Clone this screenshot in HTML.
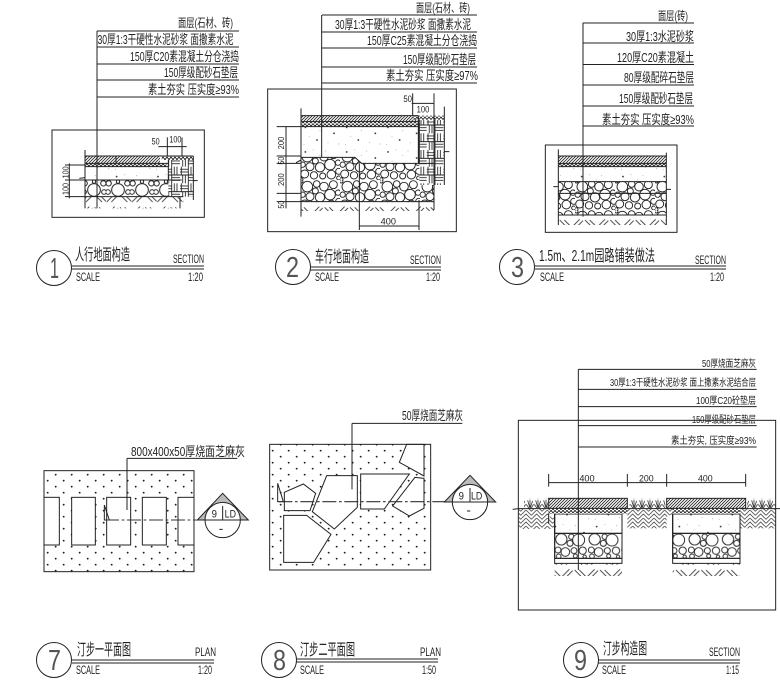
<!DOCTYPE html>
<html><head><meta charset="utf-8">
<style>
html,body{margin:0;padding:0;background:#fff;width:780px;height:691px;overflow:hidden}
svg{display:block}
text{font-family:"Liberation Sans","Noto Sans CJK SC",sans-serif;fill:#222}
.z{stroke:#222;stroke-width:3;fill:none}
.t{stroke:#222;stroke-width:1;fill:none}
.n{fill:#555}
</style></head><body>
<svg width="780" height="691" viewBox="0 0 780 691" xmlns="http://www.w3.org/2000/svg">
<defs>
<pattern id="hat" width="9" height="9" patternUnits="userSpaceOnUse"><path d="M-3 3L3 -3M0 9L9 0M6 12L12 6" stroke="#222" stroke-width="2.4"/></pattern>
<pattern id="grv" width="12" height="10" patternUnits="userSpaceOnUse"><rect width="12" height="10" fill="#fff"/><circle cx="3" cy="3" r="3" fill="#222"/><circle cx="9" cy="7" r="3" fill="#222"/></pattern>
<pattern id="con" width="124" height="74" patternUnits="userSpaceOnUse"><circle cx="12" cy="12" r="2.600" fill="#222"/><circle cx="36" cy="6" r="1.200" fill="#666"/><circle cx="56" cy="22" r="1.200" fill="#666"/><circle cx="72" cy="9" r="1.200" fill="#666"/><circle cx="98" cy="30" r="2.600" fill="#222"/><circle cx="24" cy="40" r="1.200" fill="#666"/><circle cx="47" cy="50" r="2.600" fill="#222"/><circle cx="80" cy="58" r="1.200" fill="#666"/><circle cx="112" cy="62" r="1.200" fill="#666"/><circle cx="8" cy="64" r="1.200" fill="#666"/></pattern>
<pattern id="ear" width="76" height="38" patternUnits="userSpaceOnUse"><path d="M2 36L26 12M16 36L36 16M42 14L64 36M56 14L76 34" stroke="#333" stroke-width="2.600" fill="none"/></pattern>
<pattern id="wov" width="32" height="24" patternUnits="userSpaceOnUse"><path d="M0 16L16 0L32 16M0 28L16 12L32 28M0 4L4 0M32 4L28 0" stroke="#444" stroke-width="2.400" fill="none"/></pattern>
<pattern id="st" width="120" height="90" patternUnits="userSpaceOnUse"><rect width="120" height="90" fill="#fff"/><g fill="#fff" stroke="#222" stroke-width="2.800"><circle cx="22" cy="20" r="16"/><circle cx="50" cy="12" r="10"/><circle cx="72" cy="20" r="13"/><circle cx="100" cy="14" r="12"/><circle cx="46" cy="33" r="9"/><circle cx="8" cy="44" r="8"/><circle cx="30" cy="50" r="12"/><circle cx="60" cy="52" r="14"/><circle cx="90" cy="44" r="16"/><circle cx="114" cy="38" r="8"/><circle cx="14" cy="72" r="12"/><circle cx="42" cy="76" r="11"/><circle cx="68" cy="78" r="9"/><circle cx="94" cy="74" r="13"/><circle cx="116" cy="64" r="9"/><circle cx="116" cy="84" r="6"/><circle cx="4" cy="88" r="5"/><circle cx="4" cy="4" r="5"/></g></pattern>
<pattern id="st9" width="100" height="75" patternUnits="userSpaceOnUse" patternTransform="translate(134 550)"><rect width="100" height="75" fill="#fff"/><g fill="#fff" stroke="#222" stroke-width="2.800"><circle cx="20" cy="18" r="17"/><circle cx="50" cy="10" r="8"/><circle cx="72" cy="20" r="18"/><circle cx="46" cy="30" r="9"/><circle cx="10" cy="50" r="9"/><circle cx="32" cy="56" r="13"/><circle cx="58" cy="52" r="9"/><circle cx="84" cy="52" r="11"/><circle cx="12" cy="69" r="7"/><circle cx="62" cy="68" r="6"/><circle cx="90" cy="70" r="5"/></g></pattern>
<pattern id="st1" width="72" height="50" patternUnits="userSpaceOnUse" patternTransform="translate(12 540)"><rect width="72" height="50" fill="#fff"/><g fill="#fff" stroke="#222" stroke-width="3"><circle cx="36" cy="30" r="19"/><circle cx="8" cy="10" r="8"/><circle cx="64" cy="10" r="8"/><circle cx="36" cy="5" r="5"/><circle cx="6" cy="36" r="7"/><circle cx="66" cy="36" r="7"/></g></pattern>
<pattern id="brk" width="50" height="50" patternUnits="userSpaceOnUse"><rect width="50" height="50" fill="#fff"/><path d="M0 8H25M0 16H25M4 0V25M25 0V25M33 0V25M41 0V25M0 25H50M25 33H50M25 41H50M8 25V50M16 25V50M25 25V50" stroke="#222" stroke-width="2.600"/></pattern>
<pattern id="dot" width="48" height="36" patternUnits="userSpaceOnUse"><circle cx="5" cy="8" r="2.800" fill="#222"/><circle cx="29" cy="26" r="2.800" fill="#222"/></pattern>
<pattern id="gra" width="24" height="30" patternUnits="userSpaceOnUse" patternTransform="translate(0 445)"><path d="M12 30L5 6M12 30L12 4M12 30L20 8M9 30L1 18M15 30L23 18" stroke="#333" stroke-width="2.400" fill="none"/></pattern>
</defs>

<!-- Panel 1 -->
<g transform="translate(30,0) scale(.33333)">
<rect class="z" x="66" y="390" width="457" height="262"/>
<rect x="165" y="590" width="295" height="35" fill="url(#ear)"/>
<rect x="165" y="540" width="290" height="50" fill="url(#st1)"/>
<rect x="165" y="500" width="250" height="40" fill="url(#con)"/>
<rect x="165" y="490" width="245" height="10" fill="url(#grv)"/>
<rect x="165" y="468" width="225" height="22" fill="url(#hat)"/>
<rect x="415" y="480" width="75" height="110" fill="url(#brk)"/>
<rect x="395" y="468" width="95" height="12" fill="url(#grv)"/>
<path class="z" d="M165 450V625M165 468H490M165 490H415M165 500H415M165 540H455M165 590H460M258 468V490M490 468V600M450 590V625M415 480V540M201 93V625"/>
<path class="z" d="M105 495H165M105 540H165M105 590H165M118 490V595M148 535L165 533M490 542L503 542M412 412V468M456 412V468M385 440H470"/>
<text font-size="26" transform="translate(116,535) rotate(-90)" textLength="36" lengthAdjust="spacingAndGlyphs">100</text>
<text font-size="26" transform="translate(116,585) rotate(-90)" textLength="36" lengthAdjust="spacingAndGlyphs">100</text>
<text x="365" y="434" font-size="28" textLength="24" lengthAdjust="spacingAndGlyphs">50</text>
<text x="418" y="428" font-size="28" textLength="36" lengthAdjust="spacingAndGlyphs">100</text>
</g>
<path class="t" d="M97 31H239M97 47H239M97 64H239M97 80H239M97 97H239"/>
<text x="178" y="27" font-size="12" textLength="55" lengthAdjust="spacingAndGlyphs">面层(石材、砖)</text>
<text x="97.500" y="44" font-size="13" textLength="136" lengthAdjust="spacingAndGlyphs">30厚1:3干硬性水泥砂浆 面撒素水泥</text>
<text x="130" y="61" font-size="13" textLength="109" lengthAdjust="spacingAndGlyphs">150厚C20素混凝土分仓浇捣</text>
<text x="164" y="77" font-size="13" textLength="74" lengthAdjust="spacingAndGlyphs">150厚级配砂石垫层</text>
<text x="148" y="94" font-size="13" textLength="91" lengthAdjust="spacingAndGlyphs">素土夯实 压实度≥93%</text>
<circle class="t" cx="54" cy="268" r="17.500"/>
<text class="n" x="50" y="278" font-size="29" textLength="9" lengthAdjust="spacingAndGlyphs">1</text>
<path class="t" d="M72 266H204M72 269H204"/>
<text x="75" y="260" font-size="16" textLength="55" lengthAdjust="spacingAndGlyphs">人行地面构造</text>
<text x="173" y="263" font-size="12" textLength="31" lengthAdjust="spacingAndGlyphs">SECTION</text>
<text x="76" y="281" font-size="12" textLength="24" lengthAdjust="spacingAndGlyphs">SCALE</text>
<text x="188" y="281" font-size="12" textLength="15" lengthAdjust="spacingAndGlyphs">1:20</text>

<!-- Panel 2 -->
<g transform="translate(260,0) scale(.33333)">
<rect class="z" x="23" y="267" width="566" height="428"/>
<rect x="123" y="605" width="399" height="28" fill="url(#ear)"/>
<path d="M123 472H285L305 490H522V605H123Z" fill="url(#st)"/>
<rect x="123" y="380" width="352" height="92" fill="url(#con)"/>
<path d="M285 472H475V490H305Z" fill="url(#con)"/>
<rect x="123" y="365" width="352" height="15" fill="url(#grv)"/>
<rect x="123" y="347" width="352" height="18" fill="url(#hat)"/>
<rect x="478" y="360" width="75" height="195" fill="url(#brk)"/>
<rect x="460" y="347" width="93" height="12" fill="url(#grv)"/>
<path class="z" d="M123 325V650M123 347H475M123 365H475M123 380H475M123 472H285L305 490H522M123 605H522M475 347V490M478 360V490M553 320V555M522 280V630M458 280V347M185 45V472M298 490V690M477 600V690M298 678H477M455 310H522"/>
<path class="z" d="M50 380H123M50 468H123M50 490H123M50 580H123M50 605H123M78 380V625M553 455H568M108 488L123 480"/>
<text font-size="26" transform="translate(72,448) rotate(-90)" textLength="38" lengthAdjust="spacingAndGlyphs">200</text>
<text font-size="26" transform="translate(72,494) rotate(-90)" textLength="24" lengthAdjust="spacingAndGlyphs">50</text>
<text font-size="26" transform="translate(72,558) rotate(-90)" textLength="38" lengthAdjust="spacingAndGlyphs">200</text>
<text font-size="26" transform="translate(72,626) rotate(-90)" textLength="24" lengthAdjust="spacingAndGlyphs">50</text>
<text x="430" y="306" font-size="27" textLength="26" lengthAdjust="spacingAndGlyphs">50</text>
<text x="470" y="338" font-size="27" textLength="38" lengthAdjust="spacingAndGlyphs">100</text>
<text x="362" y="674" font-size="27" textLength="46" lengthAdjust="spacingAndGlyphs">400</text>
</g>
<path class="t" d="M322 15H477M322 32H477M322 48H477M322 67H477M322 83H477"/>
<text x="416" y="12" font-size="12" textLength="54" lengthAdjust="spacingAndGlyphs">面层(石材、砖)</text>
<text x="335" y="29" font-size="13" textLength="136" lengthAdjust="spacingAndGlyphs">30厚1:3干硬性水泥砂浆 面撒素水泥</text>
<text x="367" y="45" font-size="13" textLength="110" lengthAdjust="spacingAndGlyphs">150厚C25素混凝土分仓浇捣</text>
<text x="403" y="64" font-size="13" textLength="73" lengthAdjust="spacingAndGlyphs">150厚级配砂石垫层</text>
<text x="386" y="80" font-size="13" textLength="92" lengthAdjust="spacingAndGlyphs">素土夯实 压实度≥97%</text>
<circle class="t" cx="293" cy="267" r="17.500"/>
<text class="n" x="286" y="277" font-size="29" textLength="13" lengthAdjust="spacingAndGlyphs">2</text>
<path class="t" d="M310 267H441M310 270H441"/>
<text x="315" y="262" font-size="16" textLength="54" lengthAdjust="spacingAndGlyphs">车行地面构造</text>
<text x="410" y="264" font-size="12" textLength="31" lengthAdjust="spacingAndGlyphs">SECTION</text>
<text x="315" y="281" font-size="12" textLength="24" lengthAdjust="spacingAndGlyphs">SCALE</text>
<text x="426" y="281" font-size="12" textLength="14" lengthAdjust="spacingAndGlyphs">1:20</text>

<!-- Panel 3 -->
<g transform="translate(495,0) scale(.33333)">
<rect class="z" x="151" y="435" width="395" height="262"/>
<rect x="190" y="645" width="324" height="30" fill="url(#ear)"/>
<rect x="190" y="545" width="324" height="100" fill="url(#st)"/>
<rect x="190" y="500" width="324" height="45" fill="url(#con)"/>
<rect x="190" y="490" width="324" height="10" fill="url(#grv)"/>
<rect x="190" y="468" width="324" height="22" fill="url(#hat)"/>
<path class="z" d="M190 448V675M514 458V675M190 468H514M190 490H514M190 500H514M190 545H514M190 580H514M190 645H514M264 68V650M175 560H190M514 568H528"/>
</g>
<path class="t" d="M583 23H694M583 43H694M583 64.500H694M583 85H694M583 106H694M583 126H694"/>
<text x="658" y="20" font-size="12" textLength="30" lengthAdjust="spacingAndGlyphs">面层(砖)</text>
<text x="626" y="41" font-size="13" textLength="68" lengthAdjust="spacingAndGlyphs">30厚1:3水泥砂浆</text>
<text x="617" y="62" font-size="13" textLength="77" lengthAdjust="spacingAndGlyphs">120厚C20素混凝土</text>
<text x="624" y="82" font-size="13" textLength="70" lengthAdjust="spacingAndGlyphs">80厚级配碎石垫层</text>
<text x="619" y="103" font-size="13" textLength="74" lengthAdjust="spacingAndGlyphs">150厚级配砂石垫层</text>
<text x="602" y="124" font-size="13" textLength="92" lengthAdjust="spacingAndGlyphs">素土夯实 压实度≥93%</text>
<circle class="t" cx="517" cy="267" r="17.500"/>
<text class="n" x="511" y="277" font-size="29" textLength="13" lengthAdjust="spacingAndGlyphs">3</text>
<path class="t" d="M535 266H726M535 269H726"/>
<text x="539" y="261" font-size="16" textLength="116" lengthAdjust="spacingAndGlyphs">1.5m、2.1m园路铺装做法</text>
<text x="695" y="264" font-size="12" textLength="31" lengthAdjust="spacingAndGlyphs">SECTION</text>
<text x="540" y="281" font-size="12" textLength="24" lengthAdjust="spacingAndGlyphs">SCALE</text>
<text x="710" y="281" font-size="12" textLength="14" lengthAdjust="spacingAndGlyphs">1:20</text>

<!-- Panel 7 -->
<g transform="translate(30,430) scale(.33333)">
<rect x="42" y="122" width="450" height="303" fill="url(#dot)"/>
<g fill="#fff" stroke="#222" stroke-width="3">
<rect x="42" y="202" width="46" height="143"/><rect x="125" y="202" width="71" height="143"/><rect x="230" y="202" width="72" height="143"/><rect x="337" y="202" width="72" height="143"/><rect x="444" y="202" width="48" height="143"/>
</g>
<rect class="z" stroke-width="4" x="42" y="122" width="450" height="303"/>
<path class="z" d="M291 85V240M291 85H622M223 225V270H238Z"/>
<path d="M225 270H500" stroke="#333" stroke-width="3" stroke-dasharray="42 8 8 8"/>
<path d="M578 190L502 270H655Z" fill="#bbb" stroke="#222" stroke-width="3"/>
<path d="M531 244A53 53 0 0 1 625 244L632 270H525Z" fill="#fff"/>
<circle cx="578" cy="270" r="53" fill="none" stroke="#222" stroke-width="3"/>
<path class="z" d="M502 270H655M578 228V270M568 298H578"/>
<text x="545" y="263" font-size="34" textLength="16" lengthAdjust="spacingAndGlyphs">9</text>
<text x="584" y="263" font-size="34" textLength="34" lengthAdjust="spacingAndGlyphs">LD</text>
</g>
<text x="131" y="456" font-size="13" textLength="114" lengthAdjust="spacingAndGlyphs">800x400x50厚烧面芝麻灰</text>
<circle class="t" cx="54" cy="660" r="17.500"/>
<text class="n" x="48" y="670" font-size="29" textLength="13" lengthAdjust="spacingAndGlyphs">7</text>
<path class="t" d="M72 660H214M72 663H214"/>
<text x="77" y="655" font-size="16" textLength="54" lengthAdjust="spacingAndGlyphs">汀步一平面图</text>
<text x="195" y="656" font-size="12" textLength="21" lengthAdjust="spacingAndGlyphs">PLAN</text>
<text x="76" y="674" font-size="12" textLength="24" lengthAdjust="spacingAndGlyphs">SCALE</text>
<text x="198" y="674" font-size="12" textLength="14" lengthAdjust="spacingAndGlyphs">1:20</text>

<!-- Panel 8 -->
<g transform="translate(255,400) scale(.33333)">
<rect x="44" y="133" width="483" height="377" fill="url(#dot)"/>
<g fill="#fff" stroke="#222" stroke-width="3">
<path d="M88 277L145 252L182 280L165 332H88Z"/>
<path d="M215 227H307V322L238 387L172 335L182 310Z"/>
<path d="M86 346H155L228 403L176 487H86Z"/>
<path d="M317 222H463L388 327H317Z"/>
<path d="M480 232L507 235V325L463 348L413 318Z"/>
<path d="M455 133L433 187L507 228V133Z"/>
</g>
<rect class="z" stroke-width="4" x="44" y="133" width="483" height="377"/>
<path class="z" d="M291 70V268M291 70H622M68 250V305H85Z"/>
<path d="M70 305H570" stroke="#333" stroke-width="3.500" stroke-dasharray="42 8 8 8"/>
<path d="M645 226L568 306H722Z" fill="#bbb" stroke="#222" stroke-width="3"/>
<path d="M600 280A53 53 0 0 1 690 280L698 306H592Z" fill="#fff"/>
<circle cx="645" cy="306" r="53" fill="none" stroke="#222" stroke-width="3"/>
<path class="z" d="M568 306H722M645 264V306M636 333H646"/>
<text x="611" y="299" font-size="34" textLength="16" lengthAdjust="spacingAndGlyphs">9</text>
<text x="648" y="299" font-size="34" textLength="34" lengthAdjust="spacingAndGlyphs">LD</text>
</g>
<text x="402" y="420" font-size="13" textLength="61" lengthAdjust="spacingAndGlyphs">50厚烧面芝麻灰</text>
<circle class="t" cx="279" cy="660" r="17.500"/>
<text class="n" x="273" y="670" font-size="29" textLength="13" lengthAdjust="spacingAndGlyphs">8</text>
<path class="t" d="M296 659H438M296 662H438"/>
<text x="300" y="655" font-size="16" textLength="55" lengthAdjust="spacingAndGlyphs">汀步二平面图</text>
<text x="420" y="656" font-size="12" textLength="21" lengthAdjust="spacingAndGlyphs">PLAN</text>
<text x="300" y="674" font-size="12" textLength="24" lengthAdjust="spacingAndGlyphs">SCALE</text>
<text x="422" y="674" font-size="12" textLength="14" lengthAdjust="spacingAndGlyphs">1:50</text>

<!-- Panel 9 -->
<g transform="translate(510,350) scale(.33333)">
<rect class="z" x="25" y="211" width="772" height="569"/>
<path d="M25 476H116V500L134 500V537H25Z" fill="url(#wov)"/>
<path d="M336 476H488V492L470 500V535H352V492H336Z" fill="url(#wov)"/>
<path d="M690 476H797V535H690Z" fill="url(#wov)"/>
<rect x="134" y="640" width="202" height="38" fill="url(#ear)"/>
<rect x="488" y="640" width="202" height="38" fill="url(#ear)"/>
<rect x="42" y="445" width="72" height="30" fill="url(#gra)"/>
<rect x="358" y="445" width="108" height="30" fill="url(#gra)"/>
<rect x="712" y="445" width="85" height="30" fill="url(#gra)"/>
<g stroke="#222" stroke-width="3">
<rect x="134" y="550" width="202" height="75" fill="url(#st9)"/>
<rect x="488" y="550" width="202" height="75" fill="url(#st9)"/>
<rect x="134" y="492" width="202" height="58" fill="#fff"/>
<rect x="488" y="492" width="202" height="58" fill="#fff"/>
<rect x="134" y="492" width="202" height="58" fill="url(#con)"/>
<rect x="488" y="492" width="202" height="58" fill="url(#con)"/>
<rect x="116" y="475" width="236" height="17" fill="url(#grv)" stroke="none"/>
<rect x="488" y="475" width="202" height="17" fill="url(#grv)" stroke="none"/>
<rect x="116" y="445" width="236" height="30" fill="url(#hat)"/>
<rect x="470" y="445" width="237" height="30" fill="url(#hat)"/>
</g>
<path class="z" d="M134 492V640H336V492M488 492V640H690V492M134 625H336M488 625H690M8 478L25 476M25 476H116M336 476H488M690 476H810M205 58V660M205 58H740M205 118H740M205 170H740M205 227H740M205 291H740M116 398H707M116 372V410M352 372V410M470 372V410M707 372V410M116 490V520"/>
<text x="208" y="394" font-size="27" textLength="46" lengthAdjust="spacingAndGlyphs">400</text>
<text x="387" y="394" font-size="27" textLength="44" lengthAdjust="spacingAndGlyphs">200</text>
<text x="564" y="394" font-size="27" textLength="44" lengthAdjust="spacingAndGlyphs">400</text>
</g>
<text x="702" y="367" font-size="10" textLength="54" lengthAdjust="spacingAndGlyphs">50厚烧面芝麻灰</text>
<text x="610" y="386" font-size="10" textLength="146" lengthAdjust="spacingAndGlyphs">30厚1:3干硬性水泥砂浆 面上撒素水泥结合层</text>
<text x="696" y="404" font-size="10" textLength="60" lengthAdjust="spacingAndGlyphs">100厚C20砼垫层</text>
<text x="692" y="423" font-size="10" textLength="64" lengthAdjust="spacingAndGlyphs">150厚级配砂石垫层</text>
<text x="671" y="444" font-size="10" textLength="85" lengthAdjust="spacingAndGlyphs">素土夯实, 压实度≥93%</text>
<circle class="t" cx="581" cy="660" r="17.500"/>
<text class="n" x="574" y="670" font-size="29" textLength="13" lengthAdjust="spacingAndGlyphs">9</text>
<path class="t" d="M598 660H740M598 663H740"/>
<text x="603" y="654" font-size="16" textLength="44" lengthAdjust="spacingAndGlyphs">汀步构造图</text>
<text x="709" y="656" font-size="12" textLength="31" lengthAdjust="spacingAndGlyphs">SECTION</text>
<text x="602" y="674" font-size="12" textLength="24" lengthAdjust="spacingAndGlyphs">SCALE</text>
<text x="726" y="674" font-size="12" textLength="13" lengthAdjust="spacingAndGlyphs">1:15</text>
</svg>
</body></html>
